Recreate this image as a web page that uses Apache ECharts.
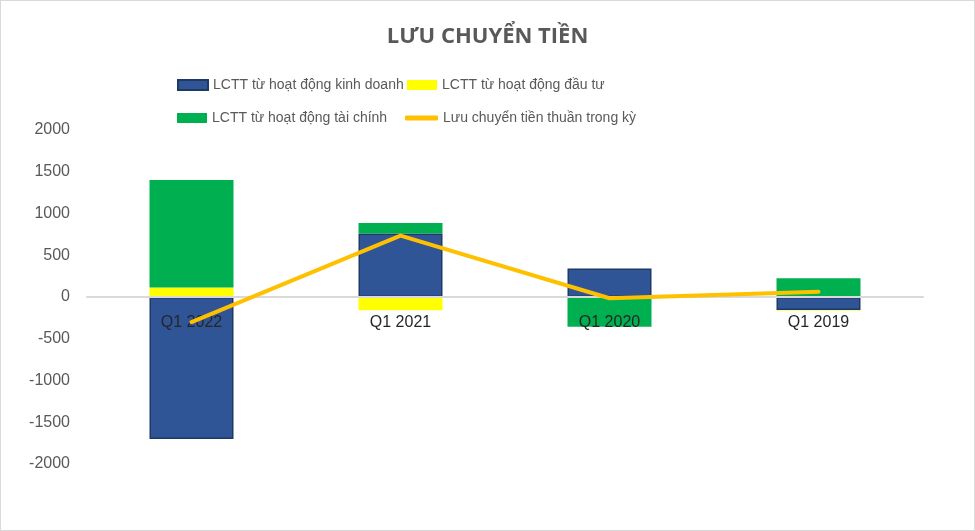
<!DOCTYPE html>
<html>
<head>
<meta charset="utf-8">
<script src="https://cdn.jsdelivr.net/npm/echarts@6/dist/echarts.min.js"></script>
<style>
  html, body { margin: 0; padding: 0; background: #fff; }
  #wrap { width: 975px; height: 531px; box-sizing: border-box; border: 1px solid #d9d9d9; }
  #chart { width: 973px; height: 529px; }
</style>
</head>
<body>
<div id="wrap"><div id="chart"></div></div>
<script>
const categories = ['Q1 2022', 'Q1 2021', 'Q1 2020', 'Q1 2019'];
const operating = [-1700, 760, 340, -155];
const investing = [115, -160, -5, -8];
const financing = [1285, 125, -350, 225];
const netFlow = [-300, 735, -15, 62];
const yTicks = { min: -2000, max: 2000, interval: 500 };

const names = [
  'LCTT từ hoạt động kinh doanh',
  'LCTT từ hoạt động đầu tư',
  'LCTT từ hoạt động tài chính',
  'Lưu chuyển tiền thuần trong kỳ'
];

const chart = echarts.init(document.getElementById('chart'));
const legendText = { color: '#595959', fontSize: 14, fontFamily: 'Liberation Sans, Arial, sans-serif' };
function lg(name, left, top, w, h, icon) {
  return {
    data: [{ name: name, icon: icon || 'rect' }],
    left: left, top: top, itemWidth: w, itemHeight: h, itemGap: 0, padding: 0,
    textStyle: legendText, selectedMode: false
  };
}
chart.setOption({
  animation: false,
  title: {
    text: 'LƯU CHUYỂN TIỀN', left: 'center', top: 20,
    textStyle: { fontFamily: 'Open Sans, sans-serif', fontWeight: 'bold', fontSize: 22, color: '#595959' }
  },
  legend: [
    lg(names[0], 176, 77, 30, 10),
    lg(names[1], 406, 77, 30, 10),
    lg(names[2], 176, 110, 30, 10),
    lg(names[3], 404, 110, 33, 5, 'roundRect')
  ],
  grid: { left: 86, right: 51, top: 129, bottom: 66 },
  xAxis: {
    type: 'category', data: categories, z: 5,
    axisLine: { onZero: true, lineStyle: { color: '#d9d9d9', width: 2 } },
    axisTick: { show: false },
    axisLabel: { margin: -149, color: '#262626', fontSize: 16, fontFamily: 'Liberation Sans, Arial, sans-serif' }
  },
  yAxis: {
    type: 'value', min: yTicks.min, max: yTicks.max, interval: yTicks.interval,
    splitLine: { show: false },
    axisLine: { show: false }, axisTick: { show: false },
    axisLabel: { margin: 17, color: '#595959', fontSize: 16, fontFamily: 'Liberation Sans, Arial, sans-serif',
      formatter: function (v) { return String(v); } }
  },
  series: [
    { name: names[0], type: 'bar', stack: 'cf', data: operating, barWidth: 84,
      itemStyle: { color: '#2F5597', borderColor: '#1F3864', borderWidth: 1.5 } },
    { name: names[1], type: 'bar', stack: 'cf', data: investing, barWidth: 84,
      itemStyle: { color: '#FFFF00' } },
    { name: names[2], type: 'bar', stack: 'cf', data: financing, barWidth: 84,
      itemStyle: { color: '#00B050' } },
    { name: names[3], type: 'line', data: netFlow, symbol: 'none', z: 10,
      lineStyle: { color: '#FFC000', width: 4, cap: 'round', join: 'round' },
      itemStyle: { color: '#FFC000' } }
  ]
});
</script>
</body>
</html>
